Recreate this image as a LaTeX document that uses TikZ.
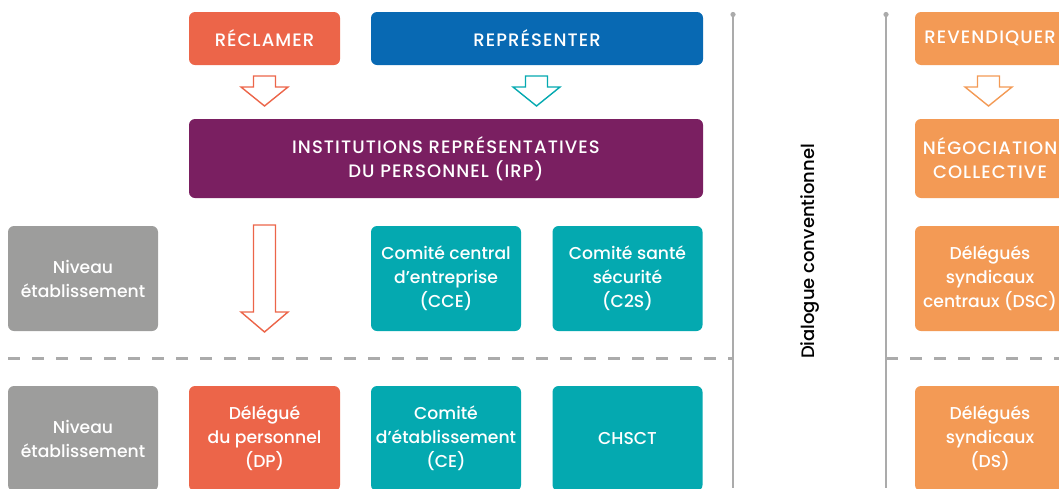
\documentclass[tikz,border=0pt]{standalone}
\usepackage{fontspec}
\setmainfont{Poppins Medium}
\newfontfamily\capsfont{Poppins Medium}[LetterSpace=6]
\usetikzlibrary{calc}
\definecolor{cred}{HTML}{EC6549}
\definecolor{cblue}{HTML}{0869B3}
\definecolor{cpurple}{HTML}{7A1F61}
\definecolor{cteal}{HTML}{04A9B0}
\definecolor{cgray}{HTML}{9D9D9C}
\definecolor{corange}{HTML}{F39A55}
\definecolor{cline}{HTML}{ABABAB}
% hollow downward arrow: colour, x centre, y top, y shoulder, y tip
\newcommand\hollowdown[5]{%
  \draw[#1, line width=1.4pt, line join=miter, fill=white]
    (#2-11,#3) -- (#2+11,#3) -- (#2+11,#4) -- (#2+23.5,#4) -- (#2,#5)
    -- (#2-23.5,#4) -- (#2-11,#4) -- cycle;}
\begin{document}
\begin{tikzpicture}[x=1pt,y=-1pt,
  box/.style={rounded corners=6pt, text=white, align=center,
    font=\fontsize{17.2}{24}\selectfont, inner sep=0pt},
  head/.style={box, font=\capsfont\fontsize{18}{24}\selectfont},
  lvl/.style={cline, line width=1.3pt},
  sep/.style={cline, line width=2.2pt, dash pattern=on 12pt off 12pt}]
\useasboundingbox (0,0) rectangle (1059,488);
\clip (0,0) rectangle (1059,488);

% top row: actions
\node[head, fill=cred, minimum width=151, minimum height=53] (recl) at (264.5,38.5) {RÉCLAMER};
\node[head, fill=cblue, minimum width=332, minimum height=53] (repr) at (537,38.5) {REPRÉSENTER};
\node[head, fill=corange, minimum width=150, minimum height=53] (reve) at (990,38.5) {REVENDIQUER};

% second row
\node[head, fill=cpurple, minimum width=514, minimum height=79] (irp) at (446,158.5)
  {INSTITUTIONS REPRÉSENTATIVES\\DU PERSONNEL (IRP)};
\node[head, fill=corange, minimum width=150, minimum height=79] (nego) at (990,158.5)
  {NÉGOCIATION\\COLLECTIVE};

% arrows between the first two rows
\hollowdown{cred}{264.5}{76}{87}{106}
\hollowdown{cteal}{536.5}{76}{87}{106}
\hollowdown{corange}{988.5}{76}{87}{106}

% central level
\node[box, fill=cgray, minimum width=150, minimum height=105] (niv1) at (83,278.5) {Niveau\\établissement};
\node[box, fill=cteal, minimum width=150, minimum height=105] (cce) at (446,278.5) {Comité central\\d’entreprise\\(CCE)};
\node[box, fill=cteal, minimum width=150, minimum height=105] (css) at (627.5,278.5) {Comité santé\\sécurité\\(C2S)};
\node[box, fill=corange, minimum width=150, minimum height=105] (dsc) at (990,278.5) {Délégués\\syndicaux\\centraux (DSC)};
\hollowdown{cred}{264.5}{225}{312}{332}

% establishment level
\node[box, fill=cgray, minimum width=150, minimum height=105] (niv2) at (83,438.5) {Niveau\\établissement};
\node[box, fill=cred, minimum width=151, minimum height=105] (dp) at (264.5,438.5) {Délégué\\du personnel\\(DP)};
\node[box, fill=cteal, minimum width=150, minimum height=105] (ce) at (446,438.5) {Comité\\d’établissement\\(CE)};
\node[box, fill=cteal, minimum width=150, minimum height=105] (chs) at (627.5,438.5) {CHSCT};
\node[box, fill=corange, minimum width=150, minimum height=105] (ds) at (990,438.5) {Délégués\\syndicaux\\(DS)};

% level separators
\coordinate (sepL) at (8,358.5);
\coordinate (sepM) at (733,358.5);
\coordinate (sepN) at (886,358.5);
\coordinate (sepR) at (1070,358.5);
\draw[sep] (sepL) -- (sepM);
\draw[sep] (sepN) -- (sepR);

% vertical rules framing the conventional dialogue column
\coordinate (v1t) at (733,14.5);
\coordinate (v1b) at (733,488);
\coordinate (v2t) at (886,14.5);
\coordinate (v2b) at (886,488);
\draw[lvl] (v1t) -- (v1b);
\draw[lvl] (v2t) -- (v2b);
\fill[cline] (v1t) circle (2.6pt);
\fill[cline] (v2t) circle (2.6pt);
\node[rotate=90, text=black, font=\fontsize{18}{20}\selectfont] (dial) at (810.5,251.5) {Dialogue conventionnel};
\end{tikzpicture}
\end{document}
